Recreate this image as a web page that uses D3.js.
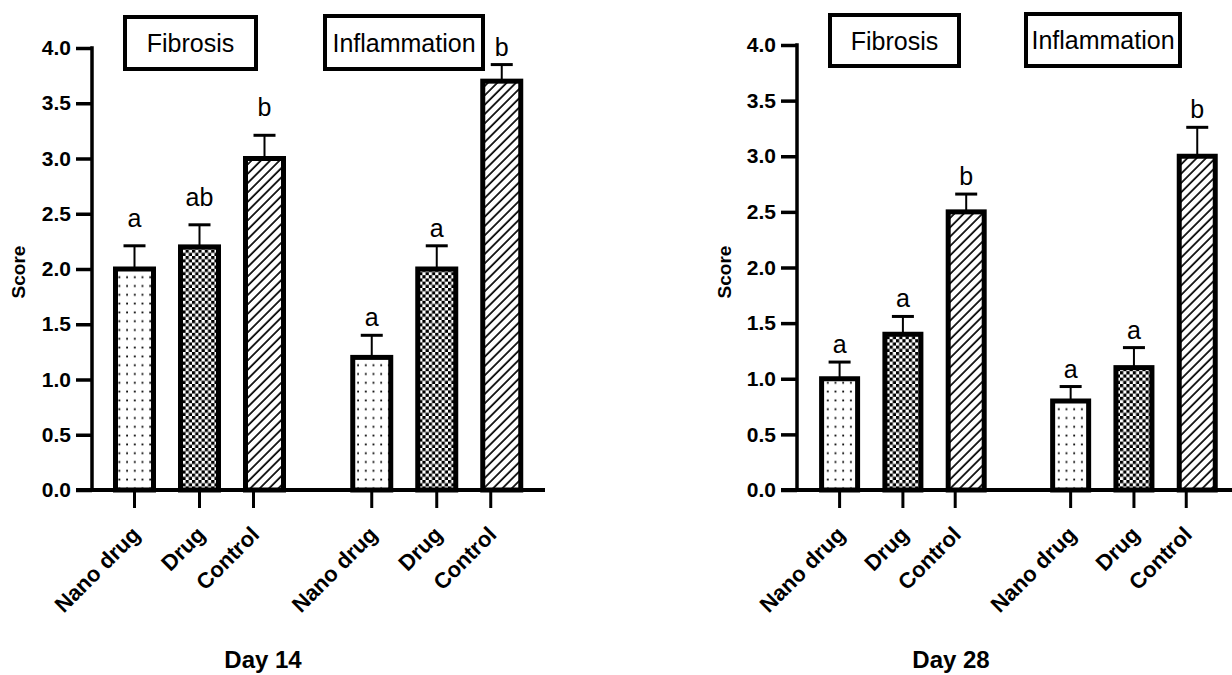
<!DOCTYPE html>
<html>
<head>
<meta charset="utf-8">
<script src="https://cdn.jsdelivr.net/npm/d3@7"></script>
<style>
  html, body { margin: 0; padding: 0; background: #fff; }
  svg { display: block; font-family: "Liberation Sans", Arial, sans-serif; }
</style>
</head>
<body>
<svg id="chart" width="1232" height="675"></svg>
<script>
// ---- data ----
const categories = ["Nano drug", "Drug", "Control"];
const groups = ["Fibrosis", "Inflammation"];
const days = ["Day 14", "Day 28"];
const yTickValues = [0, 0.5, 1.0, 1.5, 2.0, 2.5, 3.0, 3.5, 4.0];

const day14Fibrosis = [2.0, 2.2, 3.0];
const day14FibrosisErr = [0.21, 0.2, 0.21];
const day14FibrosisLetters = ["a", "ab", "b"];
const day14Inflammation = [1.2, 2.0, 3.7];
const day14InflammationErr = [0.2, 0.21, 0.15];
const day14InflammationLetters = ["a", "a", "b"];

const day28Fibrosis = [1.0, 1.4, 2.5];
const day28FibrosisErr = [0.15, 0.16, 0.16];
const day28FibrosisLetters = ["a", "a", "b"];
const day28Inflammation = [0.8, 1.1, 3.0];
const day28InflammationErr = [0.13, 0.18, 0.26];
const day28InflammationLetters = ["a", "a", "b"];

// ---- layout ----
const svg = d3.select("#chart");
const defs = svg.append("defs");

// patterns
const pDots = defs.append("pattern").attr("id", "pDots")
  .attr("patternUnits", "userSpaceOnUse").attr("width", 7.7).attr("height", 8.8);
pDots.append("rect").attr("width", 7.7).attr("height", 8.8).attr("fill", "#fff");
pDots.append("rect").attr("x", 3).attr("y", 3.5).attr("width", 1.8).attr("height", 1.8).attr("fill", "#000");

const pCheck = defs.append("pattern").attr("id", "pCheck")
  .attr("patternUnits", "userSpaceOnUse").attr("width", 6.4).attr("height", 6.4);
pCheck.append("rect").attr("width", 6.4).attr("height", 6.4).attr("fill", "#fff");
pCheck.append("rect").attr("x", 0).attr("y", 0).attr("width", 3.2).attr("height", 3.2).attr("fill", "#000");
pCheck.append("rect").attr("x", 3.2).attr("y", 3.2).attr("width", 3.2).attr("height", 3.2).attr("fill", "#000");

const pHatch = defs.append("pattern").attr("id", "pHatch")
  .attr("patternUnits", "userSpaceOnUse").attr("width", 6.6).attr("height", 6.6)
  .attr("patternTransform", "rotate(45)");
pHatch.append("rect").attr("width", 6.6).attr("height", 6.6).attr("fill", "#fff");
pHatch.append("line").attr("x1", 1).attr("y1", 0).attr("x2", 1).attr("y2", 6.6)
  .attr("stroke", "#000").attr("stroke-width", 1.7);

const fills = ["url(#pDots)", "url(#pCheck)", "url(#pHatch)"];

const panels = [
  {
    day: days[0],
    series: [
      { name: groups[0], values: day14Fibrosis, err: day14FibrosisErr, letters: day14FibrosisLetters, gap: 19 },
      { name: groups[1], values: day14Inflammation, err: day14InflammationErr, letters: day14InflammationLetters, gap: 9 }
    ],
    axisX: 92, axisEnd: 545, yTop: 48, yBottom: 490,
    x0: 134.5, step: 65, barW: 38,
    boxes: [[123, 15, 135, 56], [323, 14, 162, 57]],
    scoreX: 25, dayX: 263
  },
  {
    day: days[1],
    series: [
      { name: groups[0], values: day28Fibrosis, err: day28FibrosisErr, letters: day28FibrosisLetters, gap: 9 },
      { name: groups[1], values: day28Inflammation, err: day28InflammationErr, letters: day28InflammationLetters, gap: 9 }
    ],
    axisX: 797, axisEnd: 1240, yTop: 45, yBottom: 490,
    x0: 839.6, step: 63.3, barW: 36,
    boxes: [[828, 13, 133, 55], [1024, 12, 158, 56]],
    scoreX: 731, dayX: 951
  }
];

const groupSlot = 3.65;

panels.forEach(p => {
  const g = svg.append("g");
  const y = d3.scaleLinear().domain([0, 4]).range([p.yBottom, p.yTop]);
  const x = d3.scaleLinear().domain([0, 1]).range([p.x0, p.x0 + p.step]);

  // bars
  p.series.forEach((s, gi) => {
    s.values.forEach((v, i) => {
      const cx = x(gi * groupSlot + i);
      // error bar
      const top = y(v + s.err[i]);
      g.append("line").attr("x1", cx).attr("x2", cx)
        .attr("y1", y(v)).attr("y2", top)
        .attr("stroke", "#000").attr("stroke-width", 2);
      g.append("line").attr("x1", cx - 11).attr("x2", cx + 11)
        .attr("y1", top).attr("y2", top)
        .attr("stroke", "#000").attr("stroke-width", 3);
      // bar
      g.append("rect")
        .attr("x", cx - p.barW / 2).attr("width", p.barW)
        .attr("y", y(v)).attr("height", y(0) - y(v))
        .attr("fill", fills[i]).attr("stroke", "#000").attr("stroke-width", 5);
      // letter
      g.append("text").attr("x", cx).attr("y", top - s.gap)
        .attr("text-anchor", "middle").attr("font-size", 25)
        .attr("fill", "#000").text(s.letters[i]);
      // x tick
      const tx = cx + (i === 2 ? -11 : 0);
      g.append("line").attr("x1", tx).attr("x2", tx)
        .attr("y1", p.yBottom).attr("y2", p.yBottom + 18)
        .attr("stroke", "#000").attr("stroke-width", 3);
      g.append("text")
        .attr("transform", `translate(${tx + 7},${p.yBottom + 46}) rotate(-45)`)
        .attr("text-anchor", "end").attr("font-size", 22).attr("font-weight", "bold")
        .attr("fill", "#000").text(categories[i]);
    });
  });

  // y axis
  const yAxis = d3.axisLeft(y).tickValues(yTickValues)
    .tickFormat(d3.format(".1f")).tickSize(16).tickPadding(5);
  const ya = g.append("g").attr("transform", `translate(${p.axisX},0)`).call(yAxis);
  ya.select(".domain").remove();
  ya.selectAll(".tick line").attr("stroke", "#000").attr("stroke-width", 3.5);
  ya.selectAll(".tick text").attr("font-size", 21).attr("font-weight", "bold")
    .attr("fill", "#000").attr("font-family", "Liberation Sans, Arial, sans-serif");
  g.append("line").attr("x1", p.axisX).attr("x2", p.axisX)
    .attr("y1", p.yTop - 1.75).attr("y2", p.yBottom)
    .attr("stroke", "#000").attr("stroke-width", 3.5);
  // x axis line
  g.append("line").attr("x1", p.axisX - 16).attr("x2", p.axisEnd)
    .attr("y1", p.yBottom).attr("y2", p.yBottom)
    .attr("stroke", "#000").attr("stroke-width", 4);

  // Score label
  g.append("text")
    .attr("transform", `translate(${p.scoreX},272) rotate(-90)`)
    .attr("text-anchor", "middle").attr("font-size", 19).attr("font-weight", "bold")
    .attr("fill", "#000").text("Score");

  // Day label
  g.append("text").attr("x", p.dayX).attr("y", 668)
    .attr("text-anchor", "middle").attr("font-size", 24).attr("font-weight", "bold")
    .attr("fill", "#000").text(p.day);

  // group boxes
  p.boxes.forEach((b, bi) => {
    g.append("rect").attr("x", b[0] + 2).attr("y", b[1] + 2)
      .attr("width", b[2] - 4).attr("height", b[3] - 4)
      .attr("fill", "#fff").attr("stroke", "#000").attr("stroke-width", 4);
    g.append("text").attr("x", b[0] + b[2] / 2).attr("y", b[1] + b[3] / 2 + 9)
      .attr("text-anchor", "middle").attr("font-size", 25)
      .attr("fill", "#000").text(p.series[bi].name);
  });
});
</script>
</body>
</html>
